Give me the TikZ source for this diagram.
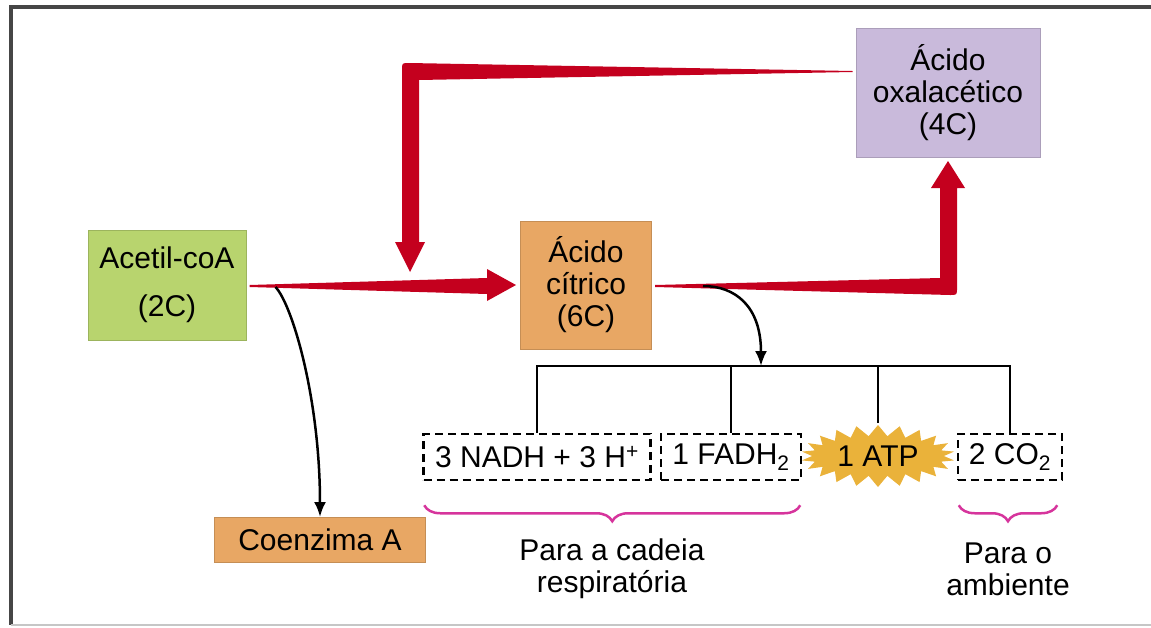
\documentclass[tikz,border=0pt]{standalone}
\usepackage{fontspec}
\setmainfont{Liberation Sans}
\usetikzlibrary{calc, positioning, shapes.symbols, decorations.pathreplacing, arrows.meta}

\definecolor{acgreen}{RGB}{184,212,110}
\definecolor{acorange}{RGB}{232,167,100}
\definecolor{aclilac}{RGB}{201,186,219}
\definecolor{acred}{RGB}{196,0,30}
\definecolor{acpink}{RGB}{214,52,156}
\definecolor{acgold}{RGB}{234,178,58}
\definecolor{acframe}{RGB}{70,70,70}

\tikzset{
  box/.style={draw=#1!85!black, line width=1pt, fill=#1, align=center, inner sep=0pt},
  prod/.style={draw, dash pattern=on 8pt off 5pt, line width=2.5pt, inner sep=0pt,
    minimum height=46pt},
  curve/.style={line width=2.5pt, -{Latex[length=15pt,width=12pt]}},
  brc/.style={acpink, line width=2.5pt, decorate,
    decoration={brace, mirror, amplitude=16pt}},
}

\begin{document}
\begin{tikzpicture}[x=1pt, y=-1pt, line width=2.5pt,
  every node/.style={font=\fontsize{30}{32}\selectfont}]
\useasboundingbox (0,0) rectangle (1151,627);

% frame
\draw[acframe, line width=3.5pt] (1160,7) -- (11,7) -- (11,625);
\draw[gray!45, line width=2pt] (11,625) -- (1160,625);

% boxes
\node[box=acgreen, minimum width=158pt, minimum height=110pt] (acetil) at (167,285)
  {Acetil-coA\\[16pt](2C)};
\node[box=acorange, minimum width=131pt, minimum height=128pt] (citrico) at (586,285)
  {Ácido\\cítrico\\(6C)};
\node[box=aclilac, minimum width=184pt, minimum height=129pt] (oxal) at (948,93)
  {Ácido\\oxalacético\\(4C)};
\node[box=acorange, minimum width=211pt, minimum height=45pt] (coenz) at (320,540)
  {Coenzima A};

% products
\node[prod, minimum width=227pt] (nadh) at (537,457) {3 NADH + 3 H\textsuperscript{+}};
\node[prod, minimum width=140pt] (fadh) at (731,457) {1 FADH\textsubscript{2}};
\node[starburst, fill=acgold, starburst points=22, starburst point height=11pt,
  random starburst=0, inner xsep=6pt, inner ysep=0pt, minimum width=141pt,
  minimum height=62pt] (atp) at (878,456) {1 ATP};
\node[prod, minimum width=104pt] (co2) at (1010,457) {2 CO\textsubscript{2}};

% Acetil-coA -> acido citrico
\fill[acred] ($(acetil.east)+(3,0)$) -- ($(citrico.west)+(-33,-7)$)
  -- ($(citrico.west)+(-33,-16)$) -- ($(citrico.west)+(-4,0)$)
  -- ($(citrico.west)+(-33,16)$) -- ($(citrico.west)+(-33,9)$)
  -- ($(acetil.east)+(3,2)$) -- cycle;

% acido citrico -> acido oxalacetico
\coordinate (c1) at (citrico.east -| oxal.south);
\fill[acred] ($(citrico.east)+(3,0)$) -- ($(c1)+(-8,-7)$)
  -- ($(oxal.south)+(-8,30)$) -- ($(oxal.south)+(-17,30)$)
  -- ($(oxal.south)+(0,3)$) -- ($(oxal.south)+(17,30)$)
  -- ($(oxal.south)+(9,30)$) -- ($(c1)+(9,3)$)
  .. controls ($(c1)+(9,10)$) .. ($(c1)+(2,10)$)
  -- ($(citrico.east)+(3,2)$) -- cycle;

% acido oxalacetico -> back to the main arrow
\coordinate (merge) at (410,272);
\coordinate (t2) at ($(oxal.west)+(-3,-22)$);
\coordinate (c2) at (merge |- t2);
\fill[acred] (t2) -- ($(c2)+(-1,-8)$)
  .. controls ($(c2)+(-8,-8)$) .. ($(c2)+(-8,-1)$)
  -- ($(merge)+(-8,-30)$) -- ($(merge)+(-15,-30)$) -- (merge)
  -- ($(merge)+(15,-30)$) -- ($(merge)+(9,-30)$)
  -- ($(c2)+(9,9)$) -- ($(t2)+(0,1)$) -- cycle;

% black curves
\draw[curve] ($(acetil.east)+(29,2)$) .. controls ($(acetil.east)+(46,20)$)
  and ($(coenz.north)+(0,-118)$) .. (coenz.north);
\coordinate (bar) at (761,366);
\draw[curve] ($(citrico.east)+(51,1)$) .. controls ($(citrico.east)+(83,1)$)
  and ($(bar)+(0,-60)$) .. (bar);

% distribution bar
\draw (nadh.north) |- (bar) -| (co2.north);
\foreach \n in {fadh, atp}
  \draw (\n.north) -- (\n.north |- bar);

% braces and labels
\draw[brc] ($(nadh.south west)+(2,24)$) -- ($(fadh.south east)+(-2,24)$);
\draw[brc] ($(co2.south west)+(2,24)$) -- ($(co2.south east)+(-6,24)$);
\node[align=center] (lblresp) at (612,569) {Para a cadeia\\respiratória};
\node[align=center] (lblamb) at (1008,569) {Para o\\ambiente};
\end{tikzpicture}
\end{document}
